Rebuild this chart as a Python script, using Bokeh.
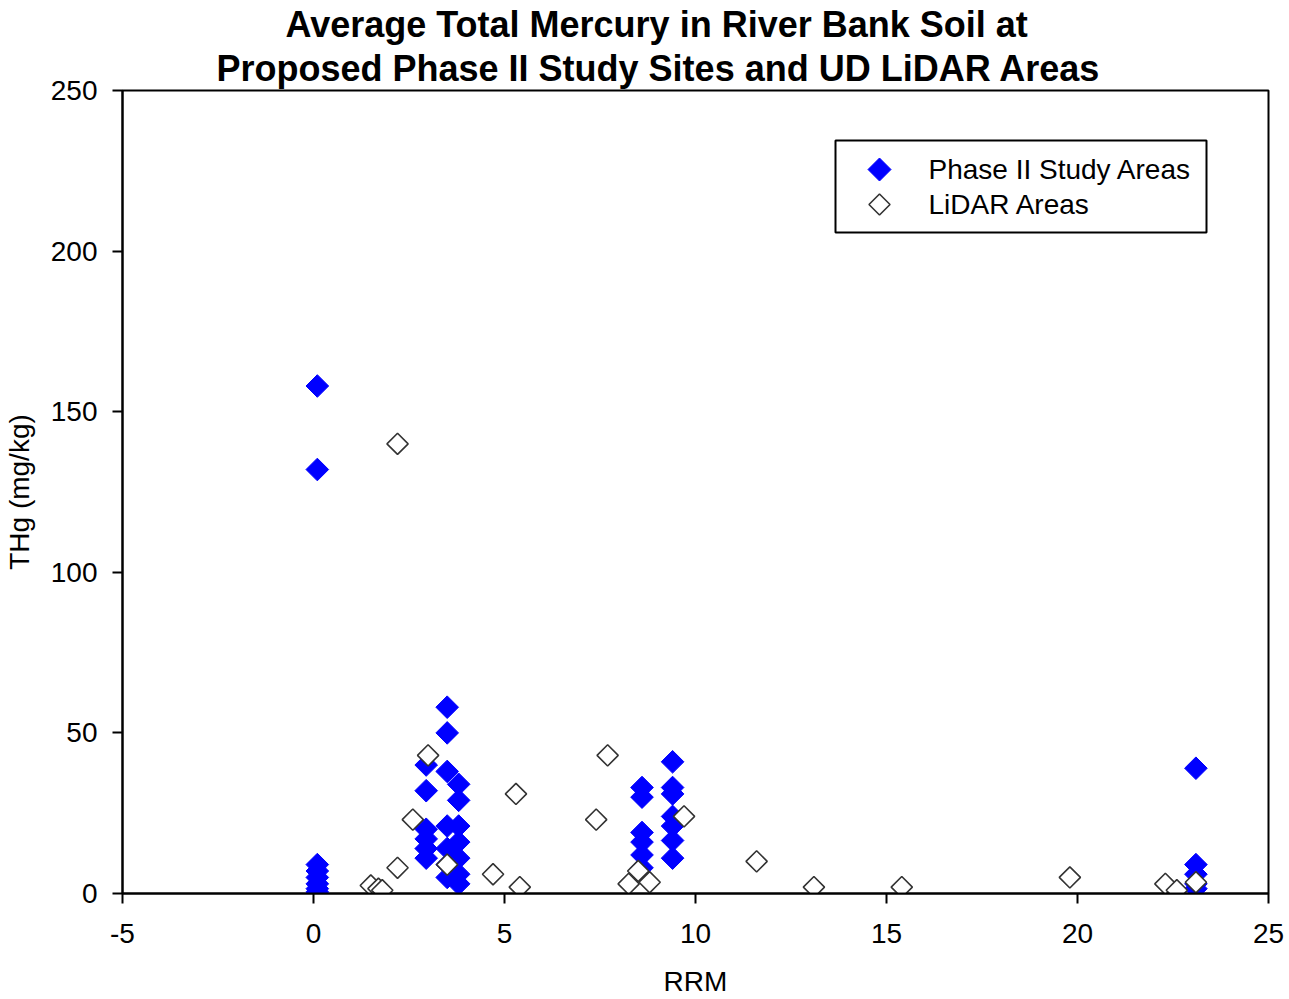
import math
from bokeh.plotting import figure
from bokeh.models import (FixedTicker, Range1d, Label, BoxAnnotation,
                          PolyAnnotation, Title)
from bokeh.embed import file_html
from bokeh.resources import INLINE

# Phase II Study Areas
phase2_rrm = [0.1, 0.1, 0.1, 0.1, 0.1, 0.1, 0.1, 0.1,
              2.95, 2.95, 2.95, 2.95, 2.95, 2.95,
              3.5, 3.5, 3.5, 3.5, 3.5, 3.5, 3.5,
              3.8, 3.8, 3.8, 3.8, 3.8, 3.8, 3.8,
              8.6, 8.6, 8.6, 8.6, 8.6, 8.6,
              9.4, 9.4, 9.4, 9.4, 9.4, 9.4, 9.4,
              23.1, 23.1, 23.1, 23.1, 23.1]
phase2_thg = [158, 132, 9, 7, 5, 3, 1.5, 0.5,
              40, 32, 20, 17, 14, 11,
              58, 50, 38, 21, 14, 9, 5,
              34, 29, 21, 16, 11, 6, 3,
              33, 30, 19, 16, 12, 8,
              41, 33, 31, 24, 21, 16.5, 11,
              39, 9, 6, 3, 1.5]

# LiDAR Areas
lidar_rrm = [1.5, 1.7, 1.8, 2.2, 2.2, 2.6, 3.0, 3.5, 4.7, 5.3, 5.4, 7.4, 7.7,
             8.25, 8.5, 8.8, 9.7, 11.6, 13.1, 15.4, 19.8, 22.3, 22.6, 23.1]
lidar_thg = [2.5, 1.5, 1.0, 140, 8, 23, 43, 9, 6, 31, 2, 23, 43,
             3, 7, 3.5, 24, 10, 2, 2, 5, 3, 1, 3.5]

x_ticks = [-5, 0, 5, 10, 15, 20, 25]
y_ticks = [0, 50, 100, 150, 200, 250]

title_lines = ["Average Total Mercury in River Bank Soil at",
               "Proposed Phase II Study Sites and UD LiDAR Areas"]
legend_labels = ["Phase II Study Areas", "LiDAR Areas"]

FONT = "Liberation Sans"
ML, MT, W, H = 121, 90, 1285, 999
FRAME_W = 1268 - ML
FRAME_H = 893 - MT

p = figure(width=W, height=H, output_backend="svg", toolbar_location=None,
           x_range=Range1d(-5, 25), y_range=Range1d(0, 250),
           min_border_left=ML, min_border_right=W - ML - FRAME_W,
           min_border_top=MT, min_border_bottom=H - MT - FRAME_H,
           background_fill_color="white", border_fill_color="white")

p.title.visible = False
# title lines, left aligned with offsets so that they are centred near x=656
title_offsets = [163, 94]
title_standoffs = [0, 3]
for t, off, so in reversed(list(zip(title_lines, title_offsets, title_standoffs))):
    p.add_layout(Title(text=t, align="left", offset=off, text_font=FONT,
                       text_font_size="36px", text_font_style="bold",
                       text_color="black", standoff=so), "above")

p.grid.visible = False
p.outline_line_color = "black"
p.outline_line_width = 2

for ax in (p.xaxis[0], p.yaxis[0]):
    ax.axis_line_color = "black"
    ax.axis_line_width = 2
    ax.major_tick_line_color = "black"
    ax.major_tick_line_width = 2
    ax.major_tick_out = 10
    ax.major_tick_in = 0
    ax.minor_tick_line_color = None
    ax.major_label_text_font = FONT
    ax.major_label_text_font_size = "28px"
    ax.major_label_text_color = "black"
    ax.axis_label_text_font = FONT
    ax.axis_label_text_font_size = "28px"
    ax.axis_label_text_font_style = "normal"
    ax.axis_label_text_color = "black"

p.xaxis.ticker = FixedTicker(ticks=x_ticks)
p.yaxis.ticker = FixedTicker(ticks=y_ticks)
p.xaxis.major_label_overrides = {t: str(t) for t in x_ticks}
p.xaxis.axis_label = "RRM"
p.yaxis.axis_label = "THg (mg/kg)"
p.xaxis.major_label_standoff = 20
p.yaxis.major_label_standoff = 15
p.xaxis.axis_label_standoff = 20
p.yaxis.axis_label_standoff = 13

r1 = p.scatter(phase2_rrm, phase2_thg, marker="square", size=16, angle=math.pi/4,
               fill_color="#0000FF", line_color="#0000FF", line_width=1)
r2 = p.scatter(lidar_rrm, lidar_thg, marker="square", size=15, angle=math.pi/4,
               fill_color="white", line_color="#333333", line_width=1.6)

# Legend drawn by hand so that its keys are true diamonds
p.add_layout(BoxAnnotation(left=834 - ML, right=1205 - ML, top=893 - 140,
                           bottom=893 - 232, left_units="screen",
                           right_units="screen", top_units="screen",
                           bottom_units="screen", fill_color="white",
                           fill_alpha=1.0, line_color="black", line_alpha=1.0,
                           line_width=2, level="overlay"))
key_styles = [dict(fill_color="#0000FF", line_color="#0000FF", line_width=1),
              dict(fill_color="white", line_color="#333333", line_width=1.6)]
key_half = [11.5, 10.5]
for i, lab in enumerate(legend_labels):
    cy = 893 - (169 + 35 * i)
    cx = 878 - ML
    h = key_half[i]
    p.add_layout(PolyAnnotation(xs=[cx, cx + h, cx, cx - h],
                                ys=[cy + h, cy, cy - h, cy],
                                xs_units="screen", ys_units="screen",
                                fill_alpha=1.0, line_alpha=1.0,
                                level="overlay", **key_styles[i]))
    p.add_layout(Label(x=927 - ML, y=cy, x_units="screen", y_units="screen",
                       text=lab, text_baseline="middle", text_font=FONT,
                       text_font_size="28px", text_color="black",
                       level="overlay"))

open("out.html", "w").write(file_html(p, INLINE))
